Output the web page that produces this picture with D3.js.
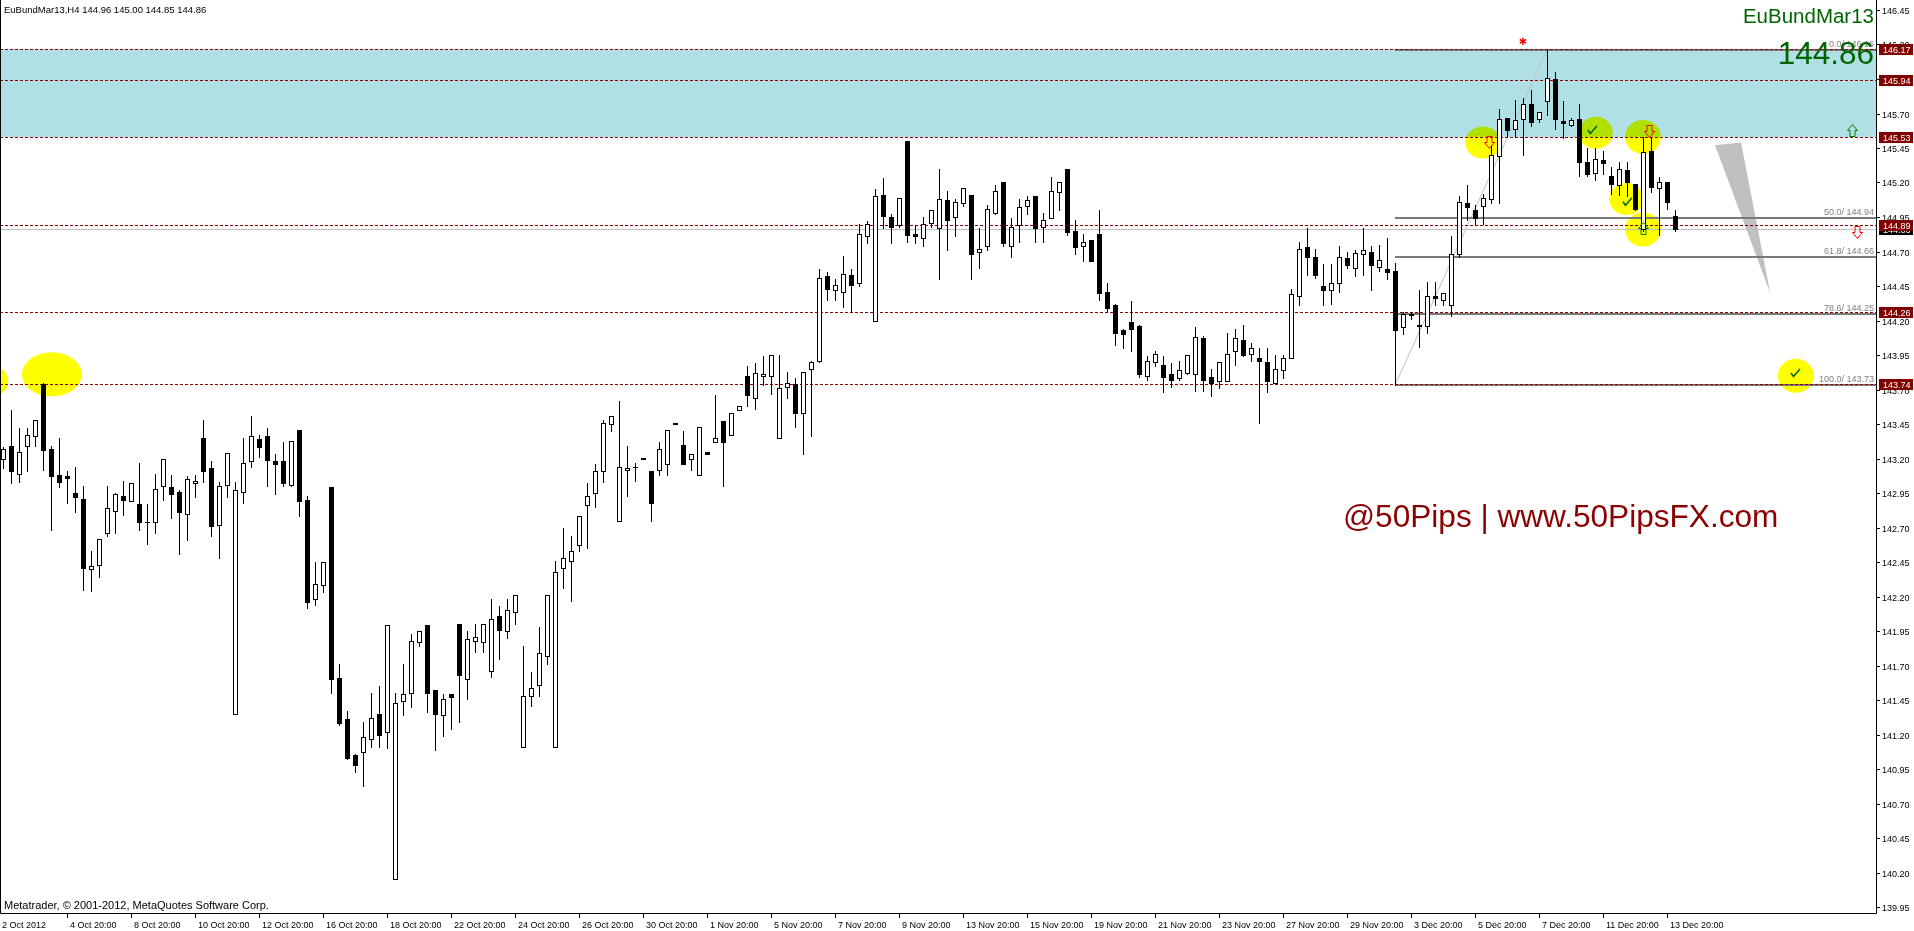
<!DOCTYPE html>
<html><head><meta charset="utf-8">
<script src="https://cdn.jsdelivr.net/npm/d3@7"></script>
<style>
body{margin:0;background:#fff;overflow:hidden}
svg{display:block}
text{font-family:"Liberation Sans",Arial,sans-serif}
</style>
</head><body>
<svg id="c" width="1914" height="931"></svg>
<script>
// ---------------- DATA ----------------
const symbol = "EuBundMar13";
const headerText = "EuBundMar13,H4  144.96 145.00 144.85 144.86";
const lastPrice = 144.86;

const opens = [143.20,143.29,143.09,143.29,143.36,143.74,143.27,143.08,143.07,142.95,
142.91,142.40,142.43,142.66,142.82,142.93,142.89,142.87,142.74,142.74,
143.00,142.99,142.96,142.80,143.02,143.35,143.13,142.72,143.01,141.35,
142.96,143.18,143.34,143.36,143.18,143.18,143.01,143.41,142.90,142.18,
142.28,142.99,141.61,141.31,141.05,141.07,141.17,141.35,141.22,140.15,
141.44,141.50,141.87,141.99,141.52,141.34,141.49,142.00,141.60,141.88,
141.87,141.66,142.06,141.95,142.09,141.11,141.48,141.56,141.77,141.11,
142.41,142.46,142.57,142.86,142.95,143.11,143.45,142.75,143.12,143.14,
143.205,143.11,143.12,143.16,143.455,143.30,143.20,143.08,143.245,143.32,
143.47,143.37,143.55,143.80,143.64,143.80,143.80,143.35,143.72,143.74,
143.53,143.85,143.91,144.52,144.42,144.41,144.53,144.47,144.81,144.20,
145.11,144.95,144.89,145.50,144.83,144.80,144.91,144.87,145.07,144.95,
145.05,145.11,144.70,144.74,144.98,145.20,144.74,144.89,145.03,145.10,
144.88,144.94,145.13,145.30,144.85,144.74,144.78,144.83,144.41,144.31,
144.13,144.19,144.16,143.80,143.90,143.88,143.81,143.78,143.82,143.81,
144.07,143.79,143.76,143.76,143.98,144.06,143.96,143.93,143.90,143.75,
143.84,143.93,144.38,144.73,144.66,144.45,144.42,144.47,144.65,144.58,
144.68,144.70,144.59,144.57,144.56,144.15,144.25,144.17,144.16,144.38,
144.35,144.31,144.68,145.05,145.00,145.03,145.08,145.39,145.67,145.59,
145.66,145.77,145.66,145.79,145.95,145.645,145.62,145.66,145.35,145.27,
145.36,145.25,145.18,145.29,145.19,144.86,145.43,145.16,145.20,144.96];

const highs = [143.28,143.55,143.42,143.42,143.48,143.75,143.29,143.35,143.11,143.14,
143.00,142.53,142.62,143.00,142.95,143.04,143.02,143.17,142.87,143.09,
143.20,143.08,142.97,143.07,143.08,143.48,143.18,143.03,143.24,143.03,
143.35,143.51,143.37,143.42,143.23,143.32,143.33,143.41,142.93,142.45,
142.45,142.99,141.71,141.37,141.06,141.29,141.50,141.55,141.99,141.50,
141.71,141.93,141.95,141.99,141.52,141.49,141.49,142.00,141.95,142.00,
142.00,142.18,142.13,142.18,142.21,141.84,141.65,141.98,142.21,142.46,
142.70,142.64,142.78,143.02,143.16,143.48,143.51,143.62,143.29,143.17,
143.205,143.11,143.32,143.41,143.455,143.40,143.23,143.43,143.245,143.66,
143.47,143.53,143.58,143.87,143.89,143.94,143.95,143.95,143.83,143.78,
143.83,143.91,144.57,144.55,144.50,144.67,144.57,144.90,144.92,145.15,
145.23,144.97,145.09,145.50,144.89,144.95,145.00,145.30,145.14,145.08,
145.16,145.11,144.87,145.04,145.18,145.20,144.94,145.08,145.10,145.10,
144.98,145.24,145.20,145.30,144.93,144.83,144.78,145.00,144.47,144.32,
144.14,144.34,144.17,143.94,143.98,143.94,143.89,143.91,143.95,144.15,
144.09,143.85,143.90,144.11,144.14,144.17,144.04,144.00,144.00,143.95,
143.95,144.43,144.77,144.87,144.72,144.61,144.61,144.74,144.70,144.71,
144.87,144.74,144.75,144.80,144.62,144.26,144.26,144.42,144.48,144.48,
144.40,144.81,145.10,145.18,145.04,145.12,145.47,145.73,145.67,145.80,
145.81,145.87,145.71,146.16,146.00,145.79,145.67,145.77,145.45,145.45,
145.43,145.31,145.35,145.35,145.19,145.53,145.53,145.24,145.20,145.00];

const lows = [143.13,143.02,143.03,143.11,143.29,143.12,142.68,142.99,142.88,142.81,
142.25,142.24,142.34,142.64,142.66,142.79,142.89,142.68,142.58,142.66,
142.90,142.77,142.51,142.61,142.92,143.03,142.64,142.48,142.92,141.35,
142.88,143.14,143.21,143.00,142.94,143.00,143.00,142.78,142.12,142.14,
142.23,141.50,141.27,141.02,140.93,140.83,141.11,141.11,141.10,140.15,
141.34,141.40,141.84,141.36,141.09,141.19,141.24,141.29,141.46,141.80,
141.80,141.62,141.75,141.90,142.00,141.11,141.41,141.48,141.71,141.11,
142.26,142.17,142.53,142.55,142.85,143.03,143.40,142.75,142.93,143.04,
143.20,142.75,143.08,143.08,143.455,143.16,143.12,143.08,143.235,143.32,
143.00,143.37,143.55,143.58,143.56,143.73,143.67,143.35,143.64,143.43,
143.23,143.36,143.90,144.35,144.35,144.30,144.26,144.45,144.76,144.20,
144.87,144.76,144.88,144.77,144.76,144.74,144.88,144.50,144.71,144.81,
145.03,144.50,144.58,144.71,144.97,144.74,144.66,144.77,144.97,144.77,
144.77,144.94,145.00,144.82,144.68,144.63,144.63,144.35,144.26,144.02,
144.00,143.98,143.79,143.77,143.87,143.68,143.72,143.77,143.81,143.69,
143.69,143.65,143.71,143.76,143.88,143.94,143.91,143.46,143.68,143.75,
143.78,143.93,144.31,144.53,144.51,144.31,144.32,144.41,144.58,144.52,
144.53,144.42,144.56,144.50,143.73,144.10,144.21,144.01,144.11,144.31,
144.31,144.23,144.66,144.93,144.90,144.90,145.05,145.05,145.53,145.53,
145.40,145.61,145.64,145.69,145.59,145.52,145.61,145.25,145.25,145.22,
145.26,145.12,145.11,145.10,145.00,144.85,145.13,144.82,145.01,144.85];

const closes = [143.27,143.11,143.25,143.37,143.48,143.26,143.07,143.03,143.06,142.92,
142.41,142.42,142.62,142.84,142.94,142.90,143.02,142.74,142.74,142.98,
143.20,142.94,142.81,143.05,143.04,143.11,142.71,143.00,143.24,142.97,
143.17,143.36,143.28,143.19,143.16,143.02,143.33,142.89,142.16,142.29,
142.45,141.60,141.28,141.03,140.98,141.18,141.32,141.20,141.99,141.43,
141.49,141.88,141.95,141.50,141.35,141.46,141.47,141.63,141.89,141.91,
142.00,142.04,141.96,142.10,142.21,141.48,141.54,141.79,142.21,142.38,
142.48,142.53,142.78,142.93,143.11,143.46,143.51,143.14,143.13,143.14,
143.20,142.88,143.27,143.41,143.45,143.16,143.23,143.43,143.235,143.35,
143.32,143.53,143.58,143.66,143.82,143.81,143.95,143.71,143.75,143.53,
143.83,143.90,144.51,144.43,144.46,144.54,144.46,144.83,144.90,145.10,
144.96,144.88,145.09,144.82,144.81,144.90,145.00,145.08,144.93,145.06,
145.16,144.68,144.72,145.01,145.14,144.76,144.88,145.02,145.07,144.87,
144.93,145.14,145.20,144.84,144.73,144.77,144.63,144.40,144.29,144.11,
144.10,144.14,143.81,143.91,143.96,143.79,143.77,143.84,143.95,144.08,
143.77,143.75,143.90,143.96,144.07,143.95,144.00,143.91,143.76,143.85,
143.93,144.39,144.72,144.66,144.53,144.42,144.47,144.66,144.60,144.69,
144.71,144.60,144.64,144.55,144.13,144.25,144.24,144.16,144.38,144.36,
144.40,144.68,145.06,145.02,144.94,145.09,145.40,145.66,145.58,145.65,
145.77,145.64,145.71,145.96,145.66,145.63,145.65,145.35,145.26,145.37,
145.34,145.19,145.30,145.20,145.01,145.42,145.17,145.20,145.06,144.86];

const dateLabels = ["2 Oct 2012","4 Oct 20:00","8 Oct 20:00","10 Oct 20:00","12 Oct 20:00",
"16 Oct 20:00","18 Oct 20:00","22 Oct 20:00","24 Oct 20:00","26 Oct 20:00","30 Oct 20:00",
"1 Nov 20:00","5 Nov 20:00","7 Nov 20:00","9 Nov 20:00","13 Nov 20:00","15 Nov 20:00",
"19 Nov 20:00","21 Nov 20:00","23 Nov 20:00","27 Nov 20:00","29 Nov 20:00","3 Dec 20:00",
"5 Dec 20:00","7 Dec 20:00","11 Dec 20:00","13 Dec 20:00"];
const dateLabelBars = [0,8,16,24,32,40,48,56,64,72,80,88,96,104,112,120,128,136,144,152,160,168,176,184,192,200,208];

const priceTicks = [146.45,146.20,145.95,145.70,145.45,145.20,144.95,144.70,144.45,144.20,
143.95,143.70,143.45,143.20,142.95,142.70,142.45,142.20,141.95,141.70,141.45,141.20,
140.95,140.70,140.45,140.20,139.95];

const levelLines = [146.17,145.94,145.53,144.89,144.26,143.74];
const zoneTop = 146.17, zoneBottom = 145.53;

const fibRatios = ["0.0","50.0","61.8","78.6","100.0"];
const fibPrices = [146.16,144.94,144.66,144.25,143.73];
const fibStartBar = 174, fibEndBar = 193;

// annotations in chart coordinates (bar index, price)
const ellipseBars   = [-1.6, 6.1, 185, 199.1, 205, 202.9, 205, 224.1];
const ellipsePrices = [143.76,143.81,145.49,145.56,145.53,145.08,144.86,143.80];
const downArrowBars = [185.75, 205.75, 231.75];
const downArrowPrices = [145.49, 145.57, 144.84];
const upArrowBars = [205, 231.1];
const upArrowPrices = [144.87, 145.58];
const checkBars = [198.6, 203, 224];
const checkPrices = [145.58, 145.06, 143.82];
const starBar = 190, starPrice = 146.225;
const triBars = [214, 217.25, 220.9];
const triPrices = [145.47, 145.49, 144.40];

// ---------------- CHART ----------------
const W = 1914, H = 931;
const plotR = 1876, plotB = 913;
const svg = d3.select("#c");
const x = d3.scaleLinear().domain([0, opens.length - 1]).range([3, 3 + 8 * (opens.length - 1)]);
const y = d3.scaleLinear().domain([139.95, 146.45]).range([907, 10]);
const ry = v => Math.round(y(v)) + 0.5;

svg.append("rect").attr("width", W).attr("height", H).attr("fill", "#fff");

// zone
svg.append("rect").attr("x", 0).attr("y", Math.round(y(zoneTop)))
  .attr("width", plotR).attr("height", Math.round(y(zoneBottom)) - Math.round(y(zoneTop)))
  .attr("fill", "#b0e0e6");

// ellipses (multiply gives the MT4-like lime tint over the zone)
const er = [[18,16],[30,22],[18,16],[17,16],[18,17],[17,16],[18,17],[18,17]];
const eg = svg.append("g");
ellipseBars.forEach((b, i) => {
  eg.append("ellipse").attr("cx", x(b)).attr("cy", y(ellipsePrices[i]))
    .attr("rx", er[i][0]).attr("ry", er[i][1]).attr("fill", "#ffff00")
    .style("mix-blend-mode", "multiply");
});

// grey triangle
svg.append("path")
  .attr("d", "M" + triBars.map((b, i) => x(b) + "," + y(triPrices[i])).join("L") + "Z")
  .attr("fill", "#c0c0c0");

// bid line
svg.append("line").attr("x1", 0).attr("x2", plotR).attr("y1", ry(lastPrice)).attr("y2", ry(lastPrice))
  .attr("stroke", "#c0c0c0").attr("stroke-width", 1);

// fib
svg.append("line").attr("x1", x(fibStartBar)).attr("y1", y(fibPrices[4]))
  .attr("x2", x(fibEndBar)).attr("y2", y(fibPrices[0]))
  .attr("stroke", "#c0c0c0").attr("stroke-width", 1);
fibPrices.forEach((p, i) => {
  const yy = Math.round(y(p));
  svg.append("line").attr("x1", Math.round(x(fibStartBar))).attr("x2", plotR)
    .attr("y1", yy).attr("y2", yy).attr("stroke", "#7a7a7a").attr("stroke-width", 2);
});

// level dashed lines
levelLines.forEach(p => {
  svg.append("line").attr("x1", 0).attr("x2", plotR).attr("y1", ry(p)).attr("y2", ry(p))
    .attr("stroke", "#8b0000").attr("stroke-width", 1).attr("stroke-dasharray", "3,2");
});

// candles
const cg = svg.append("g");
opens.forEach((o, i) => {
  const c = closes[i], h = highs[i], l = lows[i];
  const cx = Math.round(x(i));
  const yh = Math.round(y(h)), yl = Math.round(y(l));
  if (yl - yh > 0) cg.append("line").attr("x1", cx + 0.5).attr("x2", cx + 0.5)
    .attr("y1", yh).attr("y2", yl + 1).attr("stroke", "#000").attr("stroke-width", 1);
  const yo = Math.round(y(o)), yc = Math.round(y(c));
  const top = Math.min(yo, yc), bot = Math.max(yo, yc);
  if (c > o && bot - top >= 2) {
    cg.append("rect").attr("x", cx - 1.5).attr("y", top + 0.5).attr("width", 4)
      .attr("height", bot - top).attr("fill", "#fff").attr("stroke", "#000").attr("stroke-width", 1);
  } else if (c < o && bot - top >= 1) {
    cg.append("rect").attr("x", cx - 2).attr("y", top).attr("width", 5)
      .attr("height", Math.max(1, bot - top + 1)).attr("fill", "#000");
  } else {
    cg.append("line").attr("x1", cx - 2).attr("x2", cx + 3).attr("y1", top + 0.5).attr("y2", top + 0.5)
      .attr("stroke", "#000").attr("stroke-width", 1);
  }
});

// arrows
const downPath = "M-2.5,-6H2.5V0H5L0,6L-5,0H-2.5Z";
const upPath = "M-2.5,6H2.5V0H5L0,-6L-5,0H-2.5Z";
downArrowBars.forEach((b, i) => {
  svg.append("path").attr("d", downPath)
    .attr("transform", `translate(${Math.round(x(b)) + 0.5},${Math.round(y(downArrowPrices[i])) + 0.5})`)
    .attr("fill", "none").attr("stroke", "#ff0000").attr("stroke-width", 1);
});
upArrowBars.forEach((b, i) => {
  svg.append("path").attr("d", upPath)
    .attr("transform", `translate(${Math.round(x(b)) + 0.5},${Math.round(y(upArrowPrices[i])) + 0.5})`)
    .attr("fill", "none").attr("stroke", "#008000").attr("stroke-width", 1);
});
checkBars.forEach((b, i) => {
  svg.append("path").attr("d", "M-4,0L-1.5,3.5L5,-4")
    .attr("transform", `translate(${x(b)},${y(checkPrices[i])})`)
    .attr("fill", "none").attr("stroke", "#006400").attr("stroke-width", 1.6);
});
svg.append("text").attr("x", x(starBar)).attr("y", y(starPrice) + 4)
  .attr("text-anchor", "middle").attr("fill", "#ff0000")
  .style("font-family", "DejaVu Sans").style("font-size", "10px").text("\u2731");

// fib labels
fibPrices.forEach((p, i) => {
  svg.append("text").attr("x", 1874).attr("y", Math.round(y(p)) - 3)
    .attr("text-anchor", "end").attr("fill", "#808080").style("font-size", "9px")
    .text(fibRatios[i] + "/ " + p.toFixed(2));
});

// watermark
svg.append("text").attr("x", 1343).attr("y", 527).attr("fill", "#8b0000")
  .style("font-size", "31.6px").text("@50Pips | www.50PipsFX.com");

// big symbol + price
svg.append("text").attr("x", 1874).attr("y", 23).attr("text-anchor", "end")
  .attr("fill", "#006400").style("font-size", "20.5px").text(symbol);
svg.append("text").attr("x", 1874).attr("y", 64).attr("text-anchor", "end")
  .attr("fill", "#006400").style("font-size", "31.5px").text(lastPrice.toFixed(2));

// header
svg.append("text").attr("x", 4).attr("y", 13).attr("fill", "#000")
  .style("font-size", "9.5px").text(headerText);
svg.append("text").attr("x", 4).attr("y", 909).attr("fill", "#000")
  .style("font-size", "11px").text("Metatrader, \u00a9 2001-2012, MetaQuotes Software Corp.");

// frame
svg.append("path").attr("d", `M0.5,0V${plotB + 0.5}H${plotR + 0.5}V0`)
  .attr("fill", "none").attr("stroke", "#000").attr("stroke-width", 1);

// right axis
priceTicks.forEach(p => {
  const yy = ry(p);
  svg.append("line").attr("x1", plotR + 1).attr("x2", plotR + 4).attr("y1", yy).attr("y2", yy)
    .attr("stroke", "#000");
  svg.append("text").attr("x", 1882).attr("y", yy + 3.5).attr("fill", "#000")
    .style("font-size", "9px").text(p.toFixed(2));
});

// price tags
function tag(p, col) {
  const yy = Math.round(y(p));
  svg.append("rect").attr("x", 1879).attr("y", yy - 5).attr("width", 34).attr("height", 11).attr("fill", col);
  svg.append("text").attr("x", 1883).attr("y", yy + 4).attr("fill", "#fff")
    .style("font-size", "9px").text(p.toFixed(2));
}
tag(lastPrice, "#000");
levelLines.forEach(p => tag(p, "#800000"));

// bottom axis
dateLabelBars.forEach((b, i) => {
  const xx = Math.round(x(b)) + 0.5;
  if (i > 0) svg.append("line").attr("x1", xx).attr("x2", xx).attr("y1", plotB + 1).attr("y2", plotB + 5)
    .attr("stroke", "#000");
  svg.append("text").attr("x", i === 0 ? 2 : xx + 2.5).attr("y", 928).attr("fill", "#000")
    .style("font-size", "9px").text(dateLabels[i]);
});
</script>
</body></html>
